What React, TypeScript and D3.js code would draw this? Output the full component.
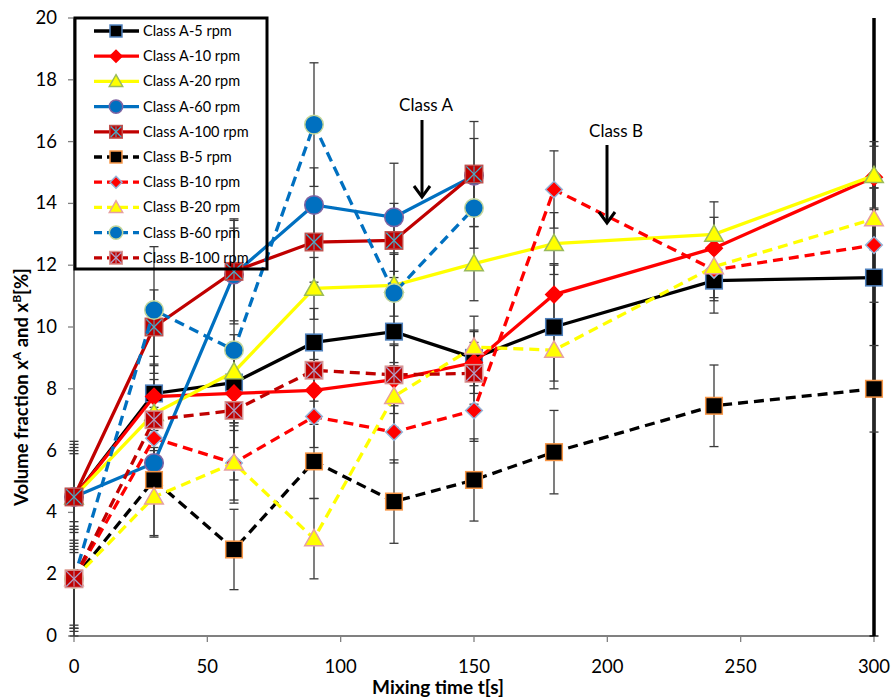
import React from 'react';
import * as d3 from 'd3';

const timesFull = [0, 30, 60, 90, 120, 150, 180, 240, 300];
const timesShort = [0, 30, 60, 90, 120, 150];

const a5 = [4.5, 7.85, 8.2, 9.5, 9.85, 9.0, 10.0, 11.5, 11.6];
const a5Err = [1.8, 1.2, 1.3, 1.1, 1.0, 0.9, 2.0, 1.05, 11.6];
const a10 = [4.5, 7.75, 7.85, 7.95, 8.3, 8.85, 11.05, 12.55, 14.85];
const a10Err = [1.7, 1.0, 1.2, 1.0, 1.1, 1.0, 1.0, 1.0, 1.0];
const a20 = [4.5, 7.2, 8.55, 11.25, 11.35, 12.05, 12.7, 13.0, 14.9];
const a20Err = [1.6, 1.1, 1.2, 1.0, 1.0, 1.2, 1.0, 1.05, 1.1];
const a60 = [4.5, 5.6, 11.7, 13.95, 13.55, 14.9];
const a60Err = [1.5, 1.2, 1.5, 1.2, 1.75, 1.2];
const a100 = [4.5, 10.0, 11.8, 12.75, 12.8, 14.95];
const a100Err = [1.4, 1.2, 1.7, 1.3, 1.2, 1.7];
const b5 = [1.85, 5.05, 2.8, 5.65, 4.35, 5.05, 5.95, 7.45, 8.0];
const b5Err = [1.85, 1.8, 1.3, 1.2, 1.35, 1.33, 1.35, 1.32, 1.4];
const b10 = [1.85, 6.4, 5.6, 7.1, 6.6, 7.3, 14.45, 11.85, 12.65];
const b10Err = [1.5, 1.0, 1.2, 1.0, 1.0, 1.0, 1.25, 1.0, 1.85];
const b20 = [1.85, 4.5, 5.6, 3.15, 7.75, 9.35, 9.25, 11.95, 13.5];
const b20Err = [1.6, 1.3, 1.3, 1.3, 1.0, 1.0, 1.0, 1.0, 1.0];
const b60 = [1.85, 10.55, 9.25, 16.55, 11.1, 13.85];
const b60Err = [1.7, 2.05, 4.2, 2.0, 1.3, 1.3];
const b100 = [1.85, 7.0, 7.3, 8.6, 8.45, 8.5];
const b100Err = [1.6, 1.0, 1.2, 1.0, 1.0, 1.0];

const seriesNames = [
  'Class A-5 rpm', 'Class A-10 rpm', 'Class A-20 rpm', 'Class A-60 rpm', 'Class A-100 rpm',
  'Class B-5 rpm', 'Class B-10 rpm', 'Class B-20 rpm', 'Class B-60 rpm', 'Class B-100 rpm',
];

const xTicks = [0, 50, 100, 150, 200, 250, 300];
const yTicks = [0, 2, 4, 6, 8, 10, 12, 14, 16, 18, 20];

type Marker = 'square' | 'diamond' | 'triangle' | 'circle' | 'xsquare';
interface Series {
  name: string; times: number[]; values: number[]; errs: number[];
  color: string; dashed: boolean; marker: Marker; fill: string; stroke: string; xColor?: string;
}

const series: Series[] = [
  { name: seriesNames[0], times: timesFull, values: a5, errs: a5Err, color: '#000000', dashed: false, marker: 'square', fill: '#000000', stroke: '#4f81bd' },
  { name: seriesNames[1], times: timesFull, values: a10, errs: a10Err, color: '#ff0000', dashed: false, marker: 'diamond', fill: '#ff0000', stroke: '#ff0000' },
  { name: seriesNames[2], times: timesFull, values: a20, errs: a20Err, color: '#ffff00', dashed: false, marker: 'triangle', fill: '#ffff00', stroke: '#9bbb59' },
  { name: seriesNames[3], times: timesShort, values: a60, errs: a60Err, color: '#0070c0', dashed: false, marker: 'circle', fill: '#0070c0', stroke: '#8064a2' },
  { name: seriesNames[4], times: timesShort, values: a100, errs: a100Err, color: '#c00000', dashed: false, marker: 'xsquare', fill: '#c00000', stroke: '#c0504d', xColor: '#4bacc6' },
  { name: seriesNames[5], times: timesFull, values: b5, errs: b5Err, color: '#000000', dashed: true, marker: 'square', fill: '#000000', stroke: '#f79646' },
  { name: seriesNames[6], times: timesFull, values: b10, errs: b10Err, color: '#ff0000', dashed: true, marker: 'diamond', fill: '#ff0000', stroke: '#95b3d7' },
  { name: seriesNames[7], times: timesFull, values: b20, errs: b20Err, color: '#ffff00', dashed: true, marker: 'triangle', fill: '#ffff00', stroke: '#e6a0a0' },
  { name: seriesNames[8], times: timesShort, values: b60, errs: b60Err, color: '#0070c0', dashed: true, marker: 'circle', fill: '#0070c0', stroke: '#c3d69b' },
  { name: seriesNames[9], times: timesShort, values: b100, errs: b100Err, color: '#c00000', dashed: true, marker: 'xsquare', fill: '#c00000', stroke: '#d99694', xColor: '#b2a1c7' },
];

const W = 894, H = 698;
const x = d3.scaleLinear().domain([0, 300]).range([74, 874]);
const y = d3.scaleLinear().domain([0, 20]).range([636, 18]);
const FONT = 'Lato, "Open Sans", sans-serif';

function MarkerShape({ s, cx, cy, k = 1 }: { s: Series; cx: number; cy: number; k?: number }) {
  const sw = 1.5;
  if (s.marker === 'square') {
    const h = 8.3 * k;
    return <rect x={cx - h} y={cy - h} width={2 * h} height={2 * h} fill={s.fill} stroke={s.stroke} strokeWidth={sw} />;
  }
  if (s.marker === 'xsquare') {
    const h = 8.7 * k;
    return (
      <g>
        <rect x={cx - h} y={cy - h} width={2 * h} height={2 * h} fill={s.fill} stroke={s.stroke} strokeWidth={sw} />
        <line x1={cx - h + 1} y1={cy - h + 1} x2={cx + h - 1} y2={cy + h - 1} stroke={s.xColor} strokeWidth={1.3} />
        <line x1={cx - h + 1} y1={cy + h - 1} x2={cx + h - 1} y2={cy - h + 1} stroke={s.xColor} strokeWidth={1.3} />
        <line x1={cx} y1={cy - h + 1} x2={cx} y2={cy + h - 1} stroke={s.xColor} strokeWidth={1} />
      </g>
    );
  }
  if (s.marker === 'diamond') {
    const h = 8.3 * k;
    return <path d={`M${cx},${cy - h}L${cx + h},${cy}L${cx},${cy + h}L${cx - h},${cy}Z`} fill={s.fill} stroke={s.stroke} strokeWidth={sw} />;
  }
  if (s.marker === 'triangle') {
    const h = 9.3 * k;
    return <path d={`M${cx},${cy - h}L${cx + h},${cy + h * 0.75}L${cx - h},${cy + h * 0.75}Z`} fill={s.fill} stroke={s.stroke} strokeWidth={sw} />;
  }
  return <circle cx={cx} cy={cy} r={9.3 * k} fill={s.fill} stroke={s.stroke} strokeWidth={sw} />;
}

export default function App() {
  const line = d3.line<[number, number]>().x(d => x(d[0])).y(d => y(d[1]));

  const errorBars: React.ReactNode[] = [];
  series.forEach((s, si) => {
    s.times.forEach((t, i) => {
      const v = s.values[i], e = s.errs[i];
      const lo = Math.max(0, v - e), hi = Math.min(20, v + e);
      const big = e > 5;
      const col = big ? '#000' : '#3a3a3a';
      const cx = x(t);
      errorBars.push(
        <g key={`e${si}-${i}`}>
          <line x1={cx} x2={cx} y1={y(lo)} y2={y(hi)} stroke={col} strokeWidth={big ? 3.5 : 1.3} />
          {v - e >= 0 && <line x1={cx - 4.5} x2={cx + 4.5} y1={y(v - e)} y2={y(v - e)} stroke={col} strokeWidth={1.3} />}
          {v + e <= 20 && <line x1={cx - 4.5} x2={cx + 4.5} y1={y(v + e)} y2={y(v + e)} stroke={col} strokeWidth={1.3} />}
        </g>
      );
    });
  });

  return (
    <svg width={W} height={H} style={{ position: 'absolute', left: 0, top: 0, background: '#fff' }} fontFamily={FONT}>
      {/* axes */}
      <line x1={x(0)} x2={x(300)} y1={y(0)} y2={y(0)} stroke="#808080" strokeWidth={2} />
      <line x1={x(0)} x2={x(0)} y1={y(0)} y2={y(20)} stroke="#808080" strokeWidth={2} />
      {xTicks.map(t => (
        <g key={`xt${t}`}>
          <line x1={x(t)} x2={x(t)} y1={y(0)} y2={y(0) + 6} stroke="#808080" strokeWidth={1.3} />
          <text x={x(t)} y={673} fontSize={18.5} textAnchor="middle" fill="#000">{t}</text>
        </g>
      ))}
      {yTicks.map(v => (
        <g key={`yt${v}`}>
          <line x1={x(0) - 6} x2={x(0)} y1={y(v)} y2={y(v)} stroke="#808080" strokeWidth={1.3} />
          <text x={57} y={y(v) + 6} fontSize={18.5} textAnchor="end" fill="#000">{v}</text>
        </g>
      ))}
      <text x={438} y={694} fontSize={19} fontWeight="bold" textAnchor="middle">Mixing time t[s]</text>
      <text transform={`translate(28,387) rotate(-90)`} fontSize={18.5} fontWeight="bold" textAnchor="middle">
        Volume fraction x<tspan baselineShift="super" fontSize={12}>A</tspan> and x<tspan baselineShift="super" fontSize={12}>B</tspan>[%]
      </text>

      {errorBars}

      {series.map((s, si) => (
        <g key={`s${si}`}>
          <path d={line(s.times.map((t, i) => [t, s.values[i]] as [number, number])) || ''}
            fill="none" stroke={s.color} strokeWidth={3.3} strokeDasharray={s.dashed ? '10,6' : undefined} />
          {s.times.map((t, i) => <MarkerShape key={i} s={s} cx={x(t)} cy={y(s.values[i])} />)}
        </g>
      ))}

      {/* annotations */}
      <text x={426} y={111} fontSize={17} textAnchor="middle">Class A</text>
      <g stroke="#000" strokeWidth={3} fill="none">
        <line x1={422} x2={422} y1={120} y2={197} />
        <path d="M414,186L422,197L430,186" />
      </g>
      <text x={616} y={137} fontSize={17} textAnchor="middle">Class B</text>
      <g stroke="#000" strokeWidth={3} fill="none">
        <line x1={607} x2={607} y1={145} y2={223} />
        <path d="M599,212L607,223L615,212" />
      </g>

      {/* legend */}
      <rect x={75} y={18} width={192} height={251} fill="none" stroke="#000" strokeWidth={3} />
      {series.map((s, i) => {
        const ly = 31 + i * 25.2;
        return (
          <g key={`lg${i}`}>
            <line x1={94} x2={139} y1={ly} y2={ly} stroke={s.color} strokeWidth={3.3} strokeDasharray={s.dashed ? '8,5' : undefined} />
            <MarkerShape s={s} cx={116} cy={ly} k={0.72} />
            <text x={143} y={ly + 5} fontSize={14.5} fill="#000">{s.name}</text>
          </g>
        );
      })}
    </svg>
  );
}
